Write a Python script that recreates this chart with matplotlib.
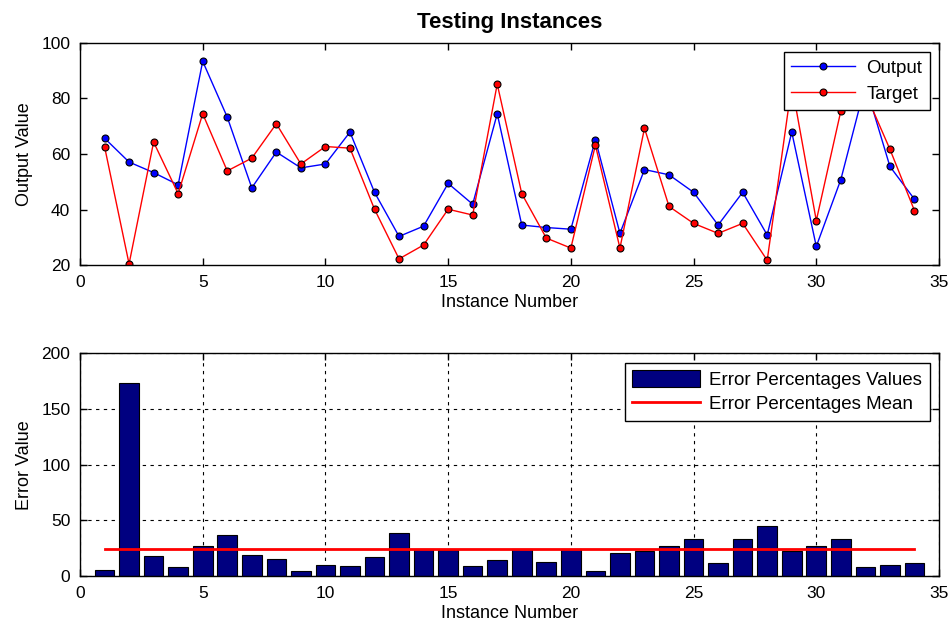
import numpy as np
import matplotlib.pyplot as plt

plt.rcParams['font.family'] = ['Liberation Sans', 'DejaVu Sans']

# instance numbers 1..34
instances = list(range(1, 35))

# network output (blue) and target (red)
output_vals = [65.7, 57.1, 53.3, 48.9, 93.4, 73.3, 47.8, 60.7, 55.0, 56.4,
               67.9, 46.2, 30.3, 34.0, 49.4, 41.9, 74.5, 34.4, 33.5, 32.9,
               65.2, 31.4, 54.4, 52.5, 46.2, 34.4, 46.2, 30.8, 67.9, 26.7,
               50.8, 85.0, 55.5, 43.7]
target_vals = [62.7, 20.4, 64.3, 45.7, 74.5, 53.9, 58.5, 70.9, 56.4, 62.7,
               62.1, 40.1, 22.2, 27.2, 40.1, 38.0, 85.2, 45.7, 29.7, 26.1,
               63.2, 26.1, 69.3, 41.1, 35.0, 31.4, 35.0, 21.7, 85.0, 36.0,
               75.5, 82.0, 61.7, 39.6]

# error percentages (bottom panel)
error_pct = [5.4, 173.7, 18.0, 7.8, 27.2, 37.1, 19.2, 15.6, 4.2, 10.2,
             9.3, 16.8, 38.9, 24.0, 23.4, 9.3, 14.4, 24.0, 12.9, 24.5,
             4.2, 21.0, 22.5, 27.2, 33.5, 12.0, 33.5, 44.9, 22.5, 27.2,
             33.5, 8.1, 10.2, 12.0]
error_mean = np.mean(error_pct)

fig = plt.figure(figsize=(9.51, 6.25), dpi=100)
ax1 = fig.add_axes([0.0841, 0.576, 0.9033, 0.3552])
ax2 = fig.add_axes([0.0841, 0.0784, 0.9033, 0.3563])

# top panel: output vs target
ax1.plot(instances, output_vals, '-o', color='blue', lw=1, ms=5,
         mfc='blue', mec='black', mew=0.8, label='Output')
ax1.plot(instances, target_vals, '-o', color='red', lw=1, ms=5,
         mfc='red', mec='black', mew=0.8, label='Target')
ax1.set_xlim(0, 35)
ax1.set_ylim(20, 100)
ax1.set_xticks(range(0, 36, 5))
ax1.set_yticks(range(20, 101, 20))
ax1.set_title('Testing Instances', fontsize=16, fontweight='bold', pad=11)
ax1.set_xlabel('Instance Number', fontsize=13, labelpad=3)
ax1.set_ylabel('Output Value', fontsize=13, labelpad=6)
leg1 = ax1.legend(loc='upper right', fontsize=13.5, fancybox=False,
                  edgecolor='black', framealpha=1, borderaxespad=0.5,
                  handlelength=3.4, labelspacing=0.45, borderpad=0.4,
                  handletextpad=0.6)
leg1.get_frame().set_linewidth(1)

# bottom panel: error bars and mean
bars = ax2.bar(instances, error_pct, width=0.8, color='#000080',
               edgecolor='black', lw=0.8, label='Error Percentages Values',
               zorder=2)
mean_line, = ax2.plot([instances[0], instances[-1]], [error_mean, error_mean],
                      color='red', lw=2, label='Error Percentages Mean',
                      zorder=3)
ax2.set_xlim(0, 35)
ax2.set_ylim(0, 200)
ax2.set_xticks(range(0, 36, 5))
ax2.set_yticks(range(0, 201, 50))
ax2.grid(True, color='black', linestyle=(0, (3, 4)), lw=0.8, zorder=0)
ax2.set_axisbelow(True)
ax2.set_xlabel('Instance Number', fontsize=13, labelpad=3)
ax2.set_ylabel('Error Value', fontsize=13, labelpad=6)
leg2 = ax2.legend(handles=[bars, mean_line], loc='upper right', fontsize=13.5,
                  fancybox=False, edgecolor='black', framealpha=1,
                  borderaxespad=0.5, handlelength=3.6, handleheight=1.0,
                  labelspacing=0.3, borderpad=0.4, handletextpad=0.5)
leg2.get_frame().set_linewidth(1)

for ax in (ax1, ax2):
    ax.tick_params(direction='in', top=True, right=True, labelsize=12.5,
                   length=5, width=1, pad=7)
    for s in ax.spines.values():
        s.set_linewidth(1)

fig.savefig('out.png', dpi=100)
